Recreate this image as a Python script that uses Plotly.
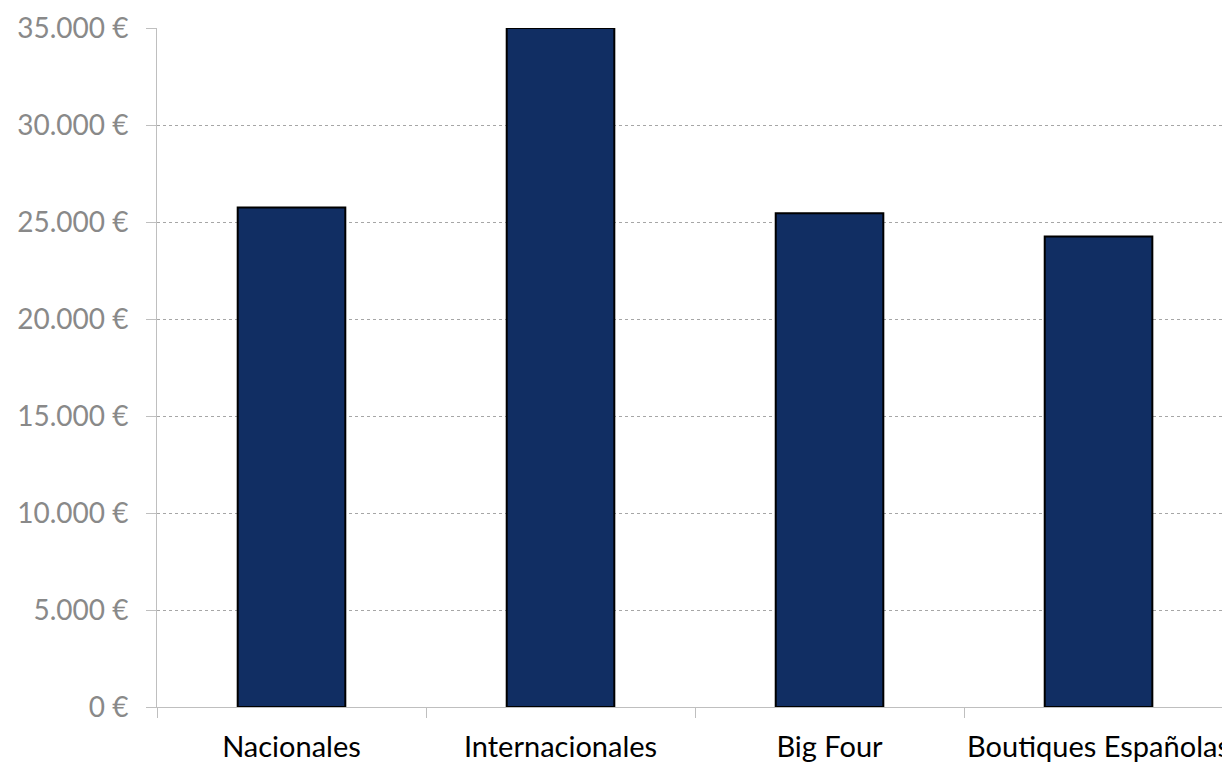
import plotly.graph_objects as go

categories = ["Nacionales", "Internacionales", "Big Four", "Boutiques Españolas"]
values = [25750, 35000, 25450, 24250]
y_ticks = [0, 5000, 10000, 15000, 20000, 25000, 30000, 35000]
y_tick_labels = ["0 €", "5.000 €", "10.000 €", "15.000 €", "20.000 €",
                 "25.000 €", "30.000 €", "35.000 €"]

fig = go.Figure(
    go.Bar(
        x=categories,
        y=values,
        width=0.4,
        marker=dict(color="#112E63", line=dict(color="#000000", width=2)),
    )
)

fig.update_layout(
    width=1222,
    height=765,
    margin=dict(l=157, r=0, t=28, b=58),
    paper_bgcolor="white",
    plot_bgcolor="white",
    showlegend=False,
    font=dict(family="Lato, Open Sans, sans-serif"),
)

fig.update_xaxes(
    type="category",
    range=[-0.5, 3.459],
    showline=True,
    linecolor="#bfbfbf",
    linewidth=1,
    ticks="outside",
    tickson="boundaries",
    ticklen=10,
    tickcolor="#bfbfbf",
    showgrid=False,
    tickangle=0,
    tickfont=dict(size=29, color="#000000"),
    ticklabelstandoff=14,
    automargin=False,
)

fig.update_yaxes(
    range=[0, 35000],
    tickvals=y_ticks,
    ticktext=y_tick_labels,
    showline=True,
    linecolor="#bfbfbf",
    linewidth=1,
    ticks="outside",
    ticklen=10,
    tickcolor="#bfbfbf",
    showgrid=True,
    gridcolor="#a6a6a6",
    griddash="dot",
    gridwidth=1,
    zeroline=False,
    tickfont=dict(size=28, color="#898989"),
    ticklabelstandoff=12,
    automargin=False,
)

fig.write_html(
    "out.html",
    config={"displayModeBar": False},
    post_script="document.body.style.margin='0';document.body.style.overflow='hidden';",
)
